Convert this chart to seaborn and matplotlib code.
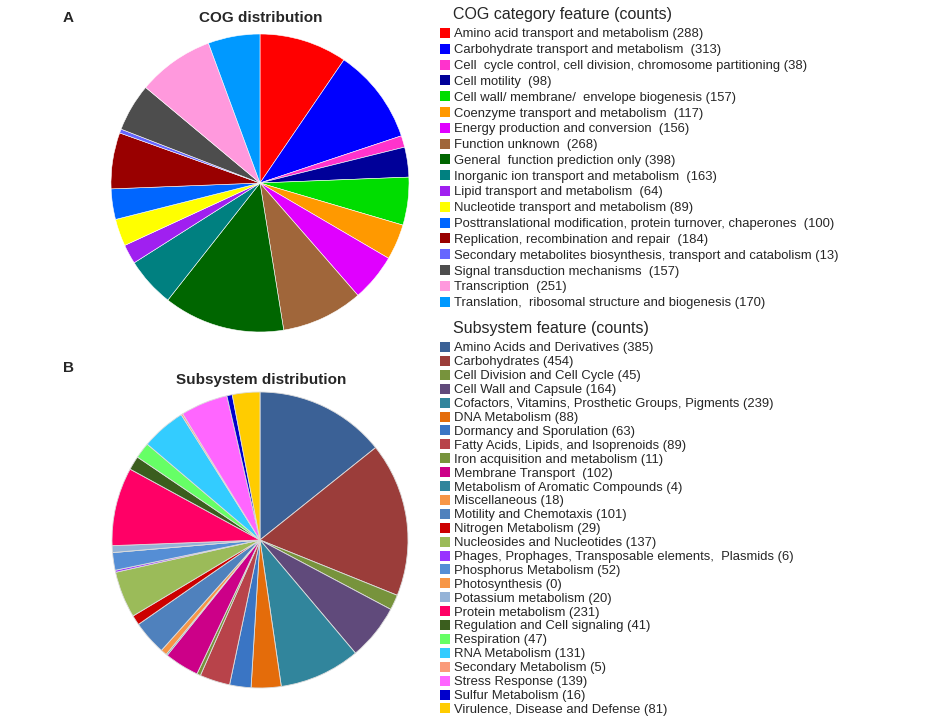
import matplotlib
matplotlib.use("Agg")
import matplotlib.pyplot as plt
from matplotlib.patches import Rectangle
import seaborn as sns

# ---- data ----
cog_labels = [
    "Amino acid transport and metabolism (288)",
    "Carbohydrate transport and metabolism  (313)",
    "Cell  cycle control, cell division, chromosome partitioning (38)",
    "Cell motility  (98)",
    "Cell wall/ membrane/  envelope biogenesis (157)",
    "Coenzyme transport and metabolism  (117)",
    "Energy production and conversion  (156)",
    "Function unknown  (268)",
    "General  function prediction only (398)",
    "Inorganic ion transport and metabolism  (163)",
    "Lipid transport and metabolism  (64)",
    "Nucleotide transport and metabolism (89)",
    "Posttranslational modification, protein turnover, chaperones  (100)",
    "Replication, recombination and repair  (184)",
    "Secondary metabolites biosynthesis, transport and catabolism (13)",
    "Signal transduction mechanisms  (157)",
    "Transcription  (251)",
    "Translation,  ribosomal structure and biogenesis (170)",
]
cog_counts = [288, 313, 38, 98, 157, 117, 156, 268, 398, 163, 64, 89, 100, 184, 13, 157, 251, 170]
cog_colors = ["#FF0000", "#0000FF", "#FF33CC", "#000099", "#00DD00", "#FF9900",
              "#E000FF", "#A0663A", "#006600", "#008080", "#A020F0", "#FFFF00",
              "#0066FF", "#990000", "#6666FF", "#4D4D4D", "#FF99DD", "#0099FF"]

sub_labels = [
    "Amino Acids and Derivatives (385)",
    "Carbohydrates (454)",
    "Cell Division and Cell Cycle (45)",
    "Cell Wall and Capsule (164)",
    "Cofactors, Vitamins, Prosthetic Groups, Pigments (239)",
    "DNA Metabolism (88)",
    "Dormancy and Sporulation (63)",
    "Fatty Acids, Lipids, and Isoprenoids (89)",
    "Iron acquisition and metabolism (11)",
    "Membrane Transport  (102)",
    "Metabolism of Aromatic Compounds (4)",
    "Miscellaneous (18)",
    "Motility and Chemotaxis (101)",
    "Nitrogen Metabolism (29)",
    "Nucleosides and Nucleotides (137)",
    "Phages, Prophages, Transposable elements,  Plasmids (6)",
    "Phosphorus Metabolism (52)",
    "Photosynthesis (0)",
    "Potassium metabolism (20)",
    "Protein metabolism (231)",
    "Regulation and Cell signaling (41)",
    "Respiration (47)",
    "RNA Metabolism (131)",
    "Secondary Metabolism (5)",
    "Stress Response (139)",
    "Sulfur Metabolism (16)",
    "Virulence, Disease and Defense (81)",
]
sub_counts = [385, 454, 45, 164, 239, 88, 63, 89, 11, 102, 4, 18, 101, 29, 137, 6,
              52, 0, 20, 231, 41, 47, 131, 5, 139, 16, 81]
sub_colors = ["#3B6196", "#9B3D3A", "#77933C", "#604A7B", "#31859C", "#E46C0A",
              "#3A75C4", "#B8434A", "#77933C", "#CC0088", "#31859C", "#F79646",
              "#4F81BD", "#CC0000", "#9BBB59", "#9933FF", "#558ED5", "#F79646",
              "#95B3D7", "#FF0066", "#3B5E1E", "#66FF66", "#33CCFF", "#FA9A7A",
              "#FF66FF", "#0000CC", "#FFCC00"]

sns.set_theme(style="white")
plt.rcParams["font.family"] = ["Liberation Sans", "DejaVu Sans"]

W, H = 930, 725
fig = plt.figure(figsize=(9.3, 7.25), dpi=100)
fig.patch.set_facecolor("white")


def fx(x):
    return x / W


def fy(y):
    return 1 - y / H


def pie_axes(cx, cy, r):
    return fig.add_axes([fx(cx - r), fy(cy + r), 2 * r / W, 2 * r / H])


ax1 = pie_axes(260, 183, 149)
ax1.pie(cog_counts, colors=cog_colors, startangle=90, counterclock=False,
        wedgeprops=dict(linewidth=0.4, edgecolor="white"))
ax1.set_xlim(-1, 1); ax1.set_ylim(-1, 1); ax1.axis("off")

ax2 = pie_axes(260, 540, 148)
ax2.pie(sub_counts, colors=sub_colors, startangle=90, counterclock=False,
        wedgeprops=dict(linewidth=0.6, edgecolor="#DDDDDD"))
ax2.set_xlim(-1, 1); ax2.set_ylim(-1, 1); ax2.axis("off")

fig.text(fx(261), fy(18), "COG distribution", ha="center", va="center",
         fontsize=11, fontweight="bold")
fig.text(fx(261), fy(380), "Subsystem distribution", ha="center", va="center",
         fontsize=11, fontweight="bold")
fig.text(fx(68), fy(18), "A", ha="center", va="center", fontsize=11, fontweight="bold")
fig.text(fx(68), fy(368), "B", ha="center", va="center", fontsize=11, fontweight="bold")


def draw_legend(title, title_y, labels, colors, y0, step, fs):
    fig.text(fx(453), fy(title_y), title, ha="left", va="center", fontsize=11.5)
    for i, (lab, col) in enumerate(zip(labels, colors)):
        y = y0 + i * step
        fig.patches.append(Rectangle((fx(440), fy(y + 5)), 10 / W, 10 / H,
                                     facecolor=col, edgecolor="none",
                                     transform=fig.transFigure, figure=fig))
        fig.text(fx(454), fy(y + 4.5), lab, ha="left", va="baseline", fontsize=fs)


draw_legend("COG category feature (counts)", 15, cog_labels, cog_colors, 33, 15.8, 9.4)
draw_legend("Subsystem feature (counts)", 329, sub_labels, sub_colors, 347, 13.9, 9.4)

fig.savefig("out.png", dpi=100, facecolor="white")
